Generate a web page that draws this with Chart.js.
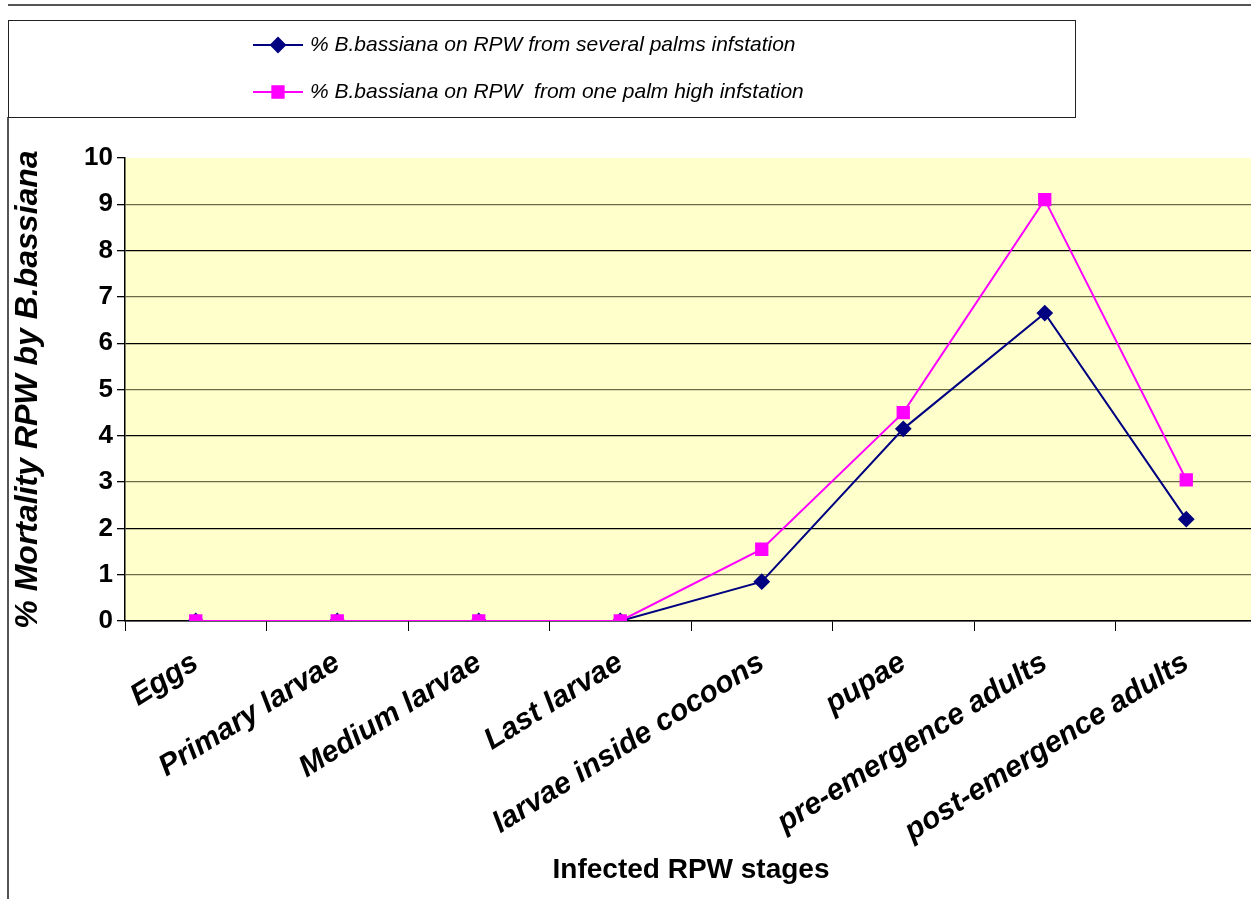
<!DOCTYPE html>
<html>
<head>
<meta charset="utf-8">
<script src="https://cdn.jsdelivr.net/npm/chart.js@4.4.1/dist/chart.umd.min.js"></script>
<style>
  body { margin: 0; background: #fff; overflow: hidden; }
  canvas { display: block; }
</style>
</head>
<body>
<canvas id="rpwChart" width="1267" height="899"></canvas>
<script>
// data
var stages = ['Eggs', 'Primary larvae', 'Medium larvae', 'Last larvae', 'larvae inside cocoons', 'pupae', 'pre-emergence adults', 'post-emergence adults'];
var severalPalms = [0, 0, 0, 0, 0.85, 4.15, 6.65, 2.2];
var onePalm = [0, 0, 0, 0, 1.55, 4.5, 9.1, 3.05];
var severalLabel = '% B.bassiana on RPW from several palms infstation';
var oneLabel = '% B.bassiana on RPW  from one palm high infstation';
var yTicks = [0, 1, 2, 3, 4, 5, 6, 7, 8, 9, 10];

// yellow plot area + frame lines + legend box
var decor = {
    id: 'decor',
    beforeDraw: function (chart) {
        var ctx = chart.ctx, a = chart.chartArea;
        ctx.save();
        ctx.fillStyle = '#FFFFCC';
        ctx.fillRect(a.left, a.top, a.right - a.left, a.bottom - a.top);
        ctx.restore();
    },
    afterDraw: function (chart) {
        var ctx = chart.ctx;
        ctx.save();
        // outer frame
        ctx.strokeStyle = '#555';
        ctx.lineWidth = 2;
        ctx.beginPath();
        ctx.moveTo(8, 5); ctx.lineTo(chart.width, 5);
        ctx.moveTo(8, 117); ctx.lineTo(8, 899);
        ctx.stroke();
        // legend box
        ctx.strokeStyle = '#222';
        ctx.lineWidth = 1;
        ctx.strokeRect(8.5, 20.5, 1067, 97);

        var items = [
            { y: 45, ds: chart.data.datasets[0] },
            { y: 92, ds: chart.data.datasets[1] }
        ];
        items.forEach(function (it) {
            ctx.strokeStyle = it.ds.borderColor;
            ctx.lineWidth = 2;
            ctx.beginPath();
            ctx.moveTo(253, it.y); ctx.lineTo(303, it.y);
            ctx.stroke();
            ctx.fillStyle = it.ds.pointBackgroundColor;
            ctx.strokeStyle = it.ds.pointBorderColor;
            Chart.helpers.drawPoint(ctx, {
                pointStyle: it.ds.pointStyle,
                radius: it.ds.pointRadius,
                borderWidth: 1
            }, 278, it.y);
            ctx.fillStyle = '#000';
            ctx.font = 'italic 21px "Liberation Sans", Arial, sans-serif';
            ctx.textBaseline = 'middle';
            ctx.textAlign = 'left';
            ctx.fillText(it.ds.label, 310, it.y);
        });
        ctx.restore();
    }
};

var ctx = document.getElementById('rpwChart').getContext('2d');

var rpwChart = new Chart(ctx, {
    type: 'line',
    data: {
        labels: stages,
        datasets: [
            {
                label: severalLabel,
                data: severalPalms,
                borderColor: '#000080',
                backgroundColor: '#000080',
                pointBackgroundColor: '#000080',
                pointBorderColor: '#000080',
                pointStyle: 'rectRot',
                pointRadius: 7,
                borderWidth: 2,
                tension: 0,
                order: 1
            },
            {
                label: oneLabel,
                data: onePalm,
                borderColor: '#FF00FF',
                backgroundColor: '#FF00FF',
                pointBackgroundColor: '#FF00FF',
                pointBorderColor: '#FF00FF',
                pointStyle: 'rect',
                pointRadius: 8,
                borderWidth: 2,
                tension: 0,
                order: 0
            }
        ]
    },
    options: {
        responsive: false,
        animation: false,
        layout: {
            padding: { top: 158, left: 8, right: 0, bottom: 0 }
        },
        scales: {
            x: {
                offset: true,
                afterFit: function (scale) { scale.height = 278; },
                grid: {
                    offset: true,
                    drawOnChartArea: false,
                    tickLength: 10,
                    color: '#000'
                },
                border: { display: true, color: '#000', width: 1.5 },
                ticks: {
                    autoSkip: false,
                    minRotation: 32,
                    maxRotation: 32,
                    padding: 14,
                    color: '#000',
                    font: { family: '"Liberation Sans", Arial, sans-serif', size: 30, weight: 'bold', style: 'italic' }
                },
                title: {
                    display: true,
                    text: 'Infected RPW stages',
                    color: '#000',
                    padding: { top: 0, bottom: 12 },
                    font: { family: '"Liberation Sans", Arial, sans-serif', size: 28, weight: 'bold' }
                }
            },
            y: {
                min: 0,
                max: 10,
                afterFit: function (scale) { scale.width = 117; },
                afterBuildTicks: function (scale) {
                    scale.ticks = yTicks.map(function (v) { return { value: v }; });
                },
                grid: {
                    color: function (c) {
                        var v = c.tick ? c.tick.value : 0;
                        if (v === 10) return 'rgba(0,0,0,0)';
                        return v % 2 === 1 ? '#6b6b4a' : '#000';
                    },
                    lineWidth: 1.3,
                    tickLength: 8,
                    tickColor: '#000'
                },
                border: { display: true, color: '#000', width: 1.5 },
                ticks: {
                    padding: 4,
                    color: '#000',
                    font: { family: '"Liberation Sans", Arial, sans-serif', size: 26, weight: 'bold' }
                },
                title: {
                    display: true,
                    text: '% Mortality RPW by B.bassiana',
                    color: '#000',
                    padding: { top: 1, bottom: 0 },
                    font: { family: '"Liberation Sans", Arial, sans-serif', size: 32, weight: 'bold', style: 'italic' }
                }
            }
        },
        plugins: {
            legend: { display: false },
            tooltip: { enabled: false }
        }
    },
    plugins: [decor]
});
</script>
</body>
</html>
